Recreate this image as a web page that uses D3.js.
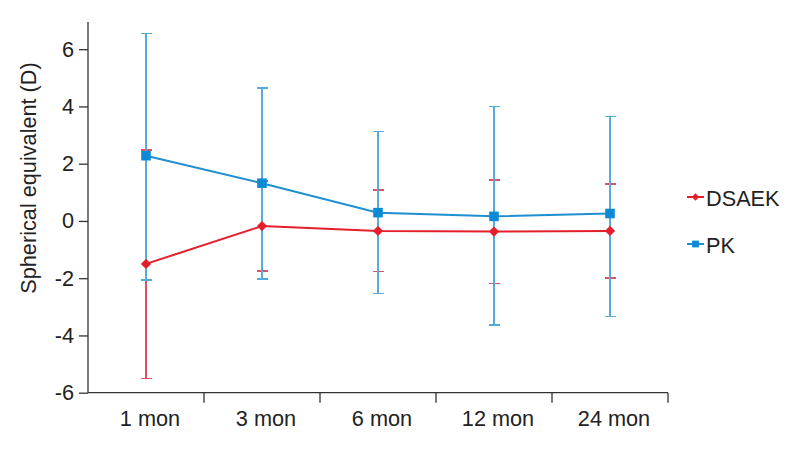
<!DOCTYPE html>
<html>
<head>
<meta charset="utf-8">
<script src="https://cdn.jsdelivr.net/npm/d3@7"></script>
<style>
  body { margin: 0; background: #fff; }
  text { font-family: "Liberation Sans", Arial, sans-serif; fill: #222; }
</style>
</head>
<body>
<div id="chart"></div>
<script>
// Data
const months = ["1 mon", "3 mon", "6 mon", "12 mon", "24 mon"];
const yTicks = [-6, -4, -2, 0, 2, 4, 6];

const dsaekMean  = [-1.50, -0.18, -0.35, -0.37, -0.35];
const dsaekLower = [-5.50, -1.75, -1.76, -2.18, -2.00];
const dsaekUpper = [ 2.47,  1.39,  1.08,  1.42,  1.30];

const pkMean  = [2.28, 1.32, 0.29, 0.16, 0.26];
const pkLower = [-2.07, -2.02, -2.54, -3.64, -3.34];
const pkUpper = [ 6.55,  4.65,  3.12,  4.00,  3.65];

const drawChart = () => {
  const root = d3.select("#chart");
  root.selectAll("*").remove();

  const W = 795, H = 450;
  const svg = root.append("svg")
    .attr("width", W)
    .attr("height", H);

  const x = d3.scaleBand()
    .domain(months)
    .range([88, 668]);

  const y = d3.scaleLinear()
    .domain([-6, 6.95])
    .range([392.7, 22]);

  // diamond = square turned 45 degrees
  const series = [
    { name: "DSAEK", mean: dsaekMean, lo: dsaekLower, hi: dsaekUpper,
      line: "#e41f2b", err: "#df5064", mark: "#e41f2b", rot: 45, size: 52, legendSize: 28 },
    { name: "PK", mean: pkMean, lo: pkLower, hi: pkUpper,
      line: "#1f8fd0", err: "#56abdc", mark: "#0d8ad6", rot: 0, size: 92, legendSize: 46 }
  ];

  const cx = m => Math.round(x(m) + x.bandwidth() / 2);

  // Axes
  const yAxis = d3.axisLeft(y)
    .tickValues(yTicks)
    .tickSize(9)
    .tickPadding(5)
    .tickFormat(d => String(d));

  const gy = svg.append("g")
    .attr("transform", "translate(88,0)")
    .call(yAxis);
  gy.select(".domain").attr("d", `M0,${y(6.95)}V${y(-6)}`);
  gy.selectAll("path, line").attr("stroke", "#333").attr("stroke-width", 1.3);
  gy.selectAll("text")
    .style("font-size", "21.7px")
    .attr("fill", "#222");

  const gx = svg.append("g")
    .attr("transform", `translate(0,${y(-6)})`);
  gx.append("path")
    .attr("d", `M88,0H668`)
    .attr("stroke", "#333")
    .attr("stroke-width", 1.3);
  gx.selectAll("line.tick")
    .data(months)
    .join("line")
    .attr("class", "tick")
    .attr("x1", d => x(d) + x.bandwidth())
    .attr("x2", d => x(d) + x.bandwidth())
    .attr("y1", 0)
    .attr("y2", 10)
    .attr("stroke", "#333")
    .attr("stroke-width", 1.3);
  gx.selectAll("text")
    .data(months)
    .join("text")
    .attr("x", d => cx(d) + 4)
    .attr("y", 33)
    .attr("text-anchor", "middle")
    .style("font-size", "21.7px")
    .text(d => d);

  // Y label
  svg.append("text")
    .attr("transform", "translate(36,178) rotate(-90)")
    .attr("text-anchor", "middle")
    .style("font-size", "21.7px")
    .text("Spherical equivalent (D)");

  // Error bars (DSAEK first, PK over it)
  series.forEach(s => {
    const g = svg.append("g")
      .attr("stroke", s.err)
      .attr("stroke-width", 1.6)
      .attr("shape-rendering", "crispEdges");
    months.forEach((m, i) => {
      g.append("line")
        .attr("x1", cx(m)).attr("x2", cx(m))
        .attr("y1", y(s.lo[i])).attr("y2", y(s.hi[i]));
      [s.lo[i], s.hi[i]].forEach(v => {
        g.append("line")
          .attr("x1", cx(m) - 5).attr("x2", cx(m) + 6)
          .attr("y1", y(v)).attr("y2", y(v));
      });
    });
  });

  // Lines and markers (PK, then DSAEK on top)
  const line = d3.line()
    .x((d, i) => cx(months[i]))
    .y(d => y(d));

  [series[1], series[0]].forEach(s => {
    svg.append("path")
      .datum(s.mean)
      .attr("d", line)
      .attr("fill", "none")
      .attr("stroke", s.line)
      .attr("stroke-width", 2);
    svg.selectAll(null)
      .data(s.mean)
      .join("path")
      .attr("transform", (d, i) => `translate(${cx(months[i])},${y(d)}) rotate(${s.rot})`)
      .attr("d", d3.symbol().type(d3.symbolSquare).size(s.size))
      .attr("fill", s.mark);
  });

  // Legend
  const legend = svg.append("g");
  const legendY = [197, 244];
  series.forEach((s, i) => {
    const g = legend.append("g").attr("transform", `translate(0,${legendY[i]})`);
    g.append("line")
      .attr("x1", 687).attr("x2", 704)
      .attr("y1", 0).attr("y2", 0)
      .attr("stroke", s.line)
      .attr("stroke-width", 2);
    g.append("path")
      .attr("transform", `translate(695.5,0) rotate(${s.rot})`)
      .attr("d", d3.symbol().type(d3.symbolSquare).size(s.legendSize))
      .attr("fill", s.mark);
    g.append("text")
      .attr("x", 706)
      .attr("y", 8.5)
      .style("font-size", "21.7px")
      .text(s.name);
  });
};

drawChart();
</script>
</body>
</html>
